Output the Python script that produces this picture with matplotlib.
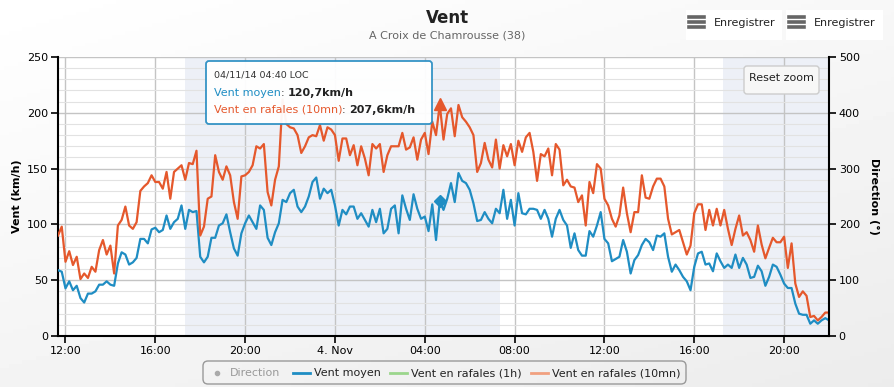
import numpy as np
import pandas as pd
import matplotlib
matplotlib.use('Agg')
import matplotlib.pyplot as plt
from matplotlib.patches import FancyBboxPatch, Rectangle
from matplotlib.lines import Line2D
from matplotlib.transforms import IdentityTransform

# donnees (pas de 10 mn, debut 03/11/14 11:40)
times = pd.date_range('2014-11-03 11:40', periods=207, freq='10min')

vent_moyen = [
    59, 57.6, 42.7, 49, 41, 45, 34, 30, 38, 38, 40, 46, 46, 49, 46, 45, 65, 75, 73, 64,
    66, 70, 87, 87, 83, 95.5, 97, 93, 95, 108, 96, 102, 105, 117, 96, 113, 111, 112, 71, 66,
    71, 88, 88,
    99, 101, 109, 93, 78.5, 72, 92, 101, 108, 102, 96, 117, 113, 88, 81.5, 93, 101, 122, 120, 128,
    131, 116, 111, 116, 125, 138, 142, 123, 132, 128, 131, 117, 99, 113, 109, 116, 116, 105, 110, 104,
    98,
    113, 102, 114, 92, 96, 114, 117, 92, 126, 114, 104, 127, 114, 105, 107, 94, 118, 86, 120.7, 113,
    123, 137, 120, 146, 139, 137, 131, 119, 103, 104, 111, 105, 101, 114, 110, 131, 105, 122, 99, 128,
    110,
    109, 114, 114, 113, 105, 113, 105, 89, 105, 113, 104, 99, 79, 92, 77, 72, 72, 94, 89, 99,
    111, 87, 83, 67, 69, 71, 86, 75.5, 56, 68, 72.5, 81.5, 87, 84, 77, 90, 89, 92, 71, 57.6,
    64, 59,
    53, 49, 41, 62, 74, 75.5, 64, 65, 58, 74, 67, 61, 64, 61, 73, 61, 70, 64, 52, 53,
    63, 58, 45, 53, 64, 62, 55, 47, 43, 43, 29, 20, 19, 19, 11, 14, 11, 14, 16, 14,
]

vent_rafales_10mn = [
    90, 98, 66.5, 76, 63.6, 71, 51, 56, 52, 62, 57.6, 77, 86, 73, 81, 56, 99, 104, 116, 99,
    96, 102, 130, 134, 137, 144, 138, 138, 132, 147, 123, 147, 150, 153, 140, 155, 154, 166, 90, 98,
    123, 125, 162,
    147, 140, 152, 144, 120, 105, 143, 144, 147, 153, 170, 168, 172, 129, 117, 140, 152, 212, 190, 187,
    186, 180, 164, 170, 178, 180, 179, 189, 175, 187, 185, 180, 157, 177, 177, 162, 171, 153, 170, 159,
    144,
    172, 168, 172, 147, 162, 170, 170, 170, 182, 167, 169, 178, 158, 176, 182, 163, 192, 180, 207.6, 176,
    199, 204, 179, 207, 196, 192, 187, 180, 147, 155, 173, 158, 151, 176, 150, 171, 161, 172, 153, 175,
    165,
    178, 182, 165, 139, 163, 161, 168, 144, 172, 167, 135, 140, 134, 133, 120, 126, 99, 138, 128, 154,
    150, 123, 117, 105, 98, 108, 133, 110, 93, 111, 111, 144, 124, 123, 134, 141, 141, 134, 105, 91,
    93, 95,
    84, 73, 81, 110, 118, 118, 95, 113, 99, 114, 99, 113, 96, 81.5, 96, 108, 90, 93, 86, 75.5,
    99, 82, 69.6, 79, 88, 84, 84, 89, 61, 83, 47, 35, 40, 36, 17, 18, 14, 17, 21, 21,
]

x_ticks = pd.date_range('2014-11-03 12:00', periods=9, freq='4h')
x_labels = ['12:00', '16:00', '20:00', '4. Nov', '04:00', '08:00', '12:00', '16:00', '20:00']
nuits = [('2014-11-03 17:20', '2014-11-04 07:22'), ('2014-11-04 17:18', '2014-11-04 22:00')]
tooltip_idx = 102

BLEU = '#1f8dc3'
ORANGE = '#e5582c'

W, H = 895, 387
fig = plt.figure(figsize=(W / 100, H / 100), dpi=100)
pix = IdentityTransform()


def Y(y):
    return H - y


def km(v):
    return ('%.1fkm/h' % v).replace('.', ',')


# fond degrade gris clair
bg = fig.add_axes([0, 0, 1, 1], zorder=-10)
gx = np.linspace(0, 1, 200)
gy = np.linspace(0, 1, 100)
grad = 0.4 * gx[None, :] + 0.6 * gy[:, None]
bg.imshow(1 - 0.075 * grad, cmap='gray', vmin=0, vmax=1, aspect='auto', extent=[0, 1, 0, 1], origin='upper')
bg.axis('off')

ax = fig.add_axes([58 / W, 1 - 336 / H, 771 / W, 279 / H])
ax.set_facecolor('white')
for a, b in nuits:
    ax.axvspan(pd.Timestamp(a), pd.Timestamp(b), color='#edf0f7', lw=0, zorder=0)

ax.plot(times, vent_moyen, color=BLEU, lw=1.6, zorder=3)
ax.plot(times, vent_rafales_10mn, color=ORANGE, lw=1.6, zorder=3)
ax.plot(times[tooltip_idx], vent_moyen[tooltip_idx], marker='D', ms=6, color=BLEU, zorder=4)
ax.plot(times[tooltip_idx], vent_rafales_10mn[tooltip_idx], marker='^', ms=8, color=ORANGE, zorder=4)

ax.set_xlim(times[0], pd.Timestamp('2014-11-04 22:00'))
ax.set_ylim(0, 250)
ax.set_yticks(np.arange(0, 251, 50))
ax.set_yticks(np.arange(0, 251, 10), minor=True)
ax.set_xticks(x_ticks)
ax.set_xticklabels(x_labels)
ax.grid(which='major', axis='y', color='#c4c4c4', lw=1, zorder=1)
ax.grid(which='minor', axis='y', color='#e2e2e2', lw=0.8, zorder=1)
ax.grid(which='major', axis='x', color='#c4c4c4', lw=1, zorder=1)
ax.set_axisbelow(True)
ax.tick_params(axis='y', which='minor', length=0)
ax.tick_params(axis='both', which='major', direction='out', length=5, width=1.2, labelsize=8, colors='black', pad=2)
ax.set_ylabel('Vent (km/h)', fontsize=8, fontweight='bold', labelpad=4)
for s in ['left', 'bottom']:
    ax.spines[s].set_linewidth(1.5)
    ax.spines[s].set_color('black')
ax.spines['top'].set_visible(False)
ax.spines['right'].set_visible(False)

ax2 = ax.twinx()
ax2.set_ylim(0, 500)
ax2.set_yticks(np.arange(0, 501, 100))
ax2.tick_params(axis='y', direction='out', length=5, width=1.2, labelsize=8, pad=2)
ax2.set_ylabel('Direction (°)', fontsize=8, fontweight='bold', rotation=270, labelpad=14)
ax2.spines['right'].set_linewidth(1.5)
for s in ['left', 'bottom', 'top']:
    ax2.spines[s].set_visible(False)

# titre
fig.text(447 / W, 1 - 18 / H, 'Vent', ha='center', va='center', fontsize=12, fontweight='bold', color='#222222')
fig.text(447 / W, 1 - 36 / H, 'A Croix de Chamrousse (38)', ha='center', va='center', fontsize=8, color='#666666')

# boutons
for x0, x1 in [(686, 782), (786, 883)]:
    fig.patches.append(Rectangle((x0, Y(40)), x1 - x0, 30, transform=pix, facecolor='white', edgecolor='none'))
    for yy in (17, 22, 27):
        fig.add_artist(Line2D([x0 + 3, x0 + 18], [Y(yy), Y(yy)], transform=pix, color='#666666', lw=2.6))
    fig.text(x0 + 28, Y(23), 'Enregistrer', transform=pix, ha='left', va='center', fontsize=8, color='#222222')

fig.patches.append(FancyBboxPatch((744, Y(94)), 75, 28, boxstyle='round,pad=0,rounding_size=3', transform=pix,
                                  facecolor='#f7f7f7', edgecolor='#cccccc', lw=1, zorder=5))
fig.text(781, Y(78), 'Reset zoom', transform=pix, ha='center', va='center', fontsize=8, color='#222222', zorder=6)

# infobulle
fig.patches.append(FancyBboxPatch((206, Y(124)), 226, 63, boxstyle='round,pad=0,rounding_size=3', transform=pix,
                                  facecolor='white', edgecolor='#2a8ec3', lw=1.3, alpha=0.95, zorder=5))
renderer = fig.canvas.get_renderer()


def ligne(x, y, morceaux, size):
    for txt, col, w in morceaux:
        t = fig.text(x, Y(y), txt, transform=pix, ha='left', va='center', fontsize=size, color=col,
                     fontweight=w, zorder=6)
        x = t.get_window_extent(renderer).x1


ligne(214, 75, [('04/11/14 04:40 LOC', '#333333', 'normal')], 6.8)
ligne(214, 93, [('Vent moyen', BLEU, 'normal'), (': ', '#333333', 'normal'),
                (km(vent_moyen[tooltip_idx]), '#222222', 'bold')], 8)
ligne(214, 110, [('Vent en rafales (10mn)', ORANGE, 'normal'), (': ', '#333333', 'normal'),
                 (km(vent_rafales_10mn[tooltip_idx]), '#222222', 'bold')], 8)

# legende
fig.patches.append(FancyBboxPatch((203, Y(384)), 483, 23, boxstyle='round,pad=0,rounding_size=5', transform=pix,
                                  facecolor='none', edgecolor='#999999', lw=1))
fig.add_artist(Line2D([217], [Y(373)], transform=pix, marker='o', ms=3, color='#aaaaaa', lw=0))
fig.text(230, Y(373), 'Direction', transform=pix, ha='left', va='center', fontsize=8, color='#999999')
for x0, col, lab in [(293, BLEU, 'Vent moyen'), (390, '#9bd68c', 'Vent en rafales (1h)'),
                     (531, '#f0a07f', 'Vent en rafales (10mn)')]:
    fig.add_artist(Line2D([x0, x0 + 17], [Y(373), Y(373)], transform=pix, color=col, lw=2))
    fig.text(x0 + 21, Y(373), lab, transform=pix, ha='left', va='center', fontsize=8, color='#222222')

fig.savefig('out.png', dpi=100)
